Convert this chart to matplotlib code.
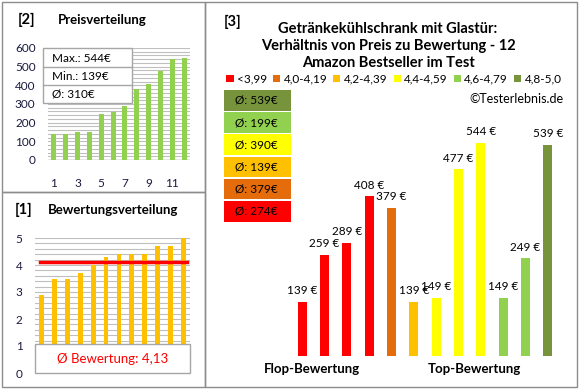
import numpy as np
import matplotlib
matplotlib.use('Agg')
from matplotlib import pyplot as plt
from matplotlib.patches import Rectangle, Patch

plt.rcParams['font.family'] = ['Lato', 'DejaVu Sans']

# Price distribution (sorted)
price_sorted = [139, 139, 149, 149, 249, 259, 289, 379, 408, 477, 539, 544]
# Rating distribution (sorted)
rating_sorted = [2.9, 3.5, 3.5, 3.7, 4.0, 4.3, 4.4, 4.4, 4.4, 4.7, 4.7, 5.0]

# Price vs rating chart
bar_prices = [139, 259, 289, 408, 379, 139, 149, 477, 544, 149, 249, 539]
bar_class = [0, 0, 0, 0, 1, 2, 3, 3, 3, 4, 4, 5]
class_labels = ['<3,99', '4,0-4,19', '4,2-4,39', '4,4-4,59', '4,6-4,79', '4,8-5,0']
class_colors = ['#FF0000', '#E46C0A', '#FFC000', '#FFFF00', '#92D050', '#77933C']
group_labels = ['Flop-Bewertung', 'Top-Bewertung']

W, H = 580, 390
fig = plt.figure(figsize=(W / 100, H / 100), dpi=100)


def px(x0, y0, x1, y1):
    return [x0 / W, 1 - y1 / H, (x1 - x0) / W, (y1 - y0) / H]


def box(x0, y0, x1, y1, fc='none', ec='#8C8C8C', lw=1.0, z=0):
    fig.patches.append(Rectangle((x0 / W, 1 - y1 / H), (x1 - x0) / W, (y1 - y0) / H,
                                 transform=fig.transFigure, fc=fc, ec=ec, lw=lw, zorder=z))


# panel frames
box(2, 2, 205, 192)
box(2, 192, 205, 387)
box(205, 2, 577, 387)

grid_c = '#BFBFBF'
tick_c = '#1A1A40'

# ---- [2] Preisverteilung
fig.text(18 / W, 1 - 20 / H, '[2]', fontsize=10.5, fontweight='bold', va='center')
fig.text(58 / W, 1 - 20 / H, 'Preisverteilung', fontsize=9.5, fontweight='bold', va='center')
ax1 = fig.add_axes(px(48, 48, 190, 160))
x = np.arange(len(price_sorted))
for g in range(20, 620, 20):
    ax1.axhline(g, color=grid_c, lw=0.8, zorder=0)
ax1.axhline(0, color='#868686', lw=1.0, zorder=1)
ax1.bar(x, price_sorted, width=0.42, color='#92D050', zorder=2)
ax1.set_xlim(-0.5, 11.5)
ax1.set_ylim(0, 600)
ax1.set_yticks(range(0, 700, 100))
ax1.set_xticks(x[::2])
ax1.set_xticklabels([str(i + 1) for i in x[::2]])
ax1.tick_params(axis='y', length=0, pad=9, labelsize=8.5, labelcolor=tick_c)
ax1.tick_params(axis='x', length=0, pad=13, labelsize=8.5, labelcolor=tick_c)
for s in ax1.spines.values():
    s.set_visible(False)

# info box
box(43, 48, 132, 103, fc='white', ec='#A6A6A6', z=5)
for yy in (67, 85):
    fig.lines.append(plt.Line2D([43 / W, 132 / W], [1 - yy / H, 1 - yy / H],
                                transform=fig.transFigure, color='#A6A6A6', lw=1.0, zorder=6))
info = ['Max.: %d€' % max(price_sorted), 'Min.: %d€' % min(price_sorted),
        'Ø: %d€' % round(np.mean(price_sorted))]
for t, yy in zip(info, (58, 76, 94)):
    fig.text(52 / W, 1 - yy / H, t, fontsize=8.5, va='center', zorder=7)

# ---- [1] Bewertungsverteilung
fig.text(15 / W, 1 - 210 / H, '[1]', fontsize=10.5, fontweight='bold', va='center')
fig.text(48 / W, 1 - 210 / H, 'Bewertungsverteilung', fontsize=9.5, fontweight='bold', va='center')
ax2 = fig.add_axes(px(35, 238, 190, 373))
x2 = np.arange(len(rating_sorted))
for g in np.arange(0.2, 5.01, 0.2):
    ax2.axhline(g, color=grid_c, lw=0.8, zorder=0)
ax2.bar(x2, rating_sorted, width=0.38, color='#FFC000', zorder=2)
avg_r = np.mean(rating_sorted)
ax2.plot([-0.1, 11.3], [avg_r, avg_r], color='#FF0000', lw=2.5, zorder=3)
ax2.set_xlim(-0.5, 11.5)
ax2.set_ylim(0, 5)
ax2.set_yticks(range(0, 6))
ax2.set_xticks([])
ax2.tick_params(axis='y', length=0, pad=9, labelsize=8.5, labelcolor=tick_c)
for s in ax2.spines.values():
    s.set_visible(False)
ax2.add_patch(Rectangle((0, 0), 1, 1.07 / 5, transform=ax2.transAxes, fc='white',
                        ec='#A6A6A6', lw=1.0, zorder=5, clip_on=False))
ax2.text(0.5, 0.53 / 5, 'Ø Bewertung: ' + ('%.2f' % (round(avg_r + 1e-9, 2))).replace('.', ','),
         transform=ax2.transAxes, ha='center', va='center', color='#FF0000',
         fontsize=9.5, zorder=6)

# ---- [3] Preis zu Bewertung
fig.text(224 / W, 1 - 22 / H, '[3]', fontsize=10.5, fontweight='bold', va='center')
fig.text(388 / W, 1 - 46 / H,
         'Getränkekühlschrank mit Glastür:\nVerhältnis von Preis zu Bewertung - 12\nAmazon Bestseller im Test',
         fontsize=10.5, fontweight='bold', ha='center', va='center', linespacing=1.25)
handles = [Patch(fc=c, ec='none') for c in class_colors]
fig.legend(handles, class_labels, loc='center', bbox_to_anchor=(394 / W, 1 - 79 / H),
           ncol=6, frameon=False, fontsize=8.5, handlelength=0.6, handleheight=0.6,
           handletextpad=0.3, columnspacing=0.5, borderpad=0)
fig.text(563 / W, 1 - 99 / H, '©Testerlebnis.de', fontsize=9, ha='right', va='center')

ax3 = fig.add_axes(px(291, 121, 559, 356))
x3 = np.arange(len(bar_prices))
ax3.bar(x3, bar_prices, width=0.4, color=[class_colors[c] for c in bar_class])
for xi, p in zip(x3, bar_prices):
    ax3.annotate('%d €' % p, (xi, p), xytext=(0, 4), textcoords='offset points',
                 ha='center', va='bottom', fontsize=8.5, annotation_clip=False)
ax3.set_xlim(-0.5, 11.5)
ax3.set_ylim(0, 600)
ax3.axis('off')
fig.text(312 / W, 1 - 369 / H, group_labels[0], fontsize=9.5, fontweight='bold', ha='center', va='center')
fig.text(474 / W, 1 - 369 / H, group_labels[1], fontsize=9.5, fontweight='bold', ha='center', va='center')

# average boxes, best class on top
for k, ci in enumerate(range(len(class_colors) - 1, -1, -1)):
    vals = [p for p, c in zip(bar_prices, bar_class) if c == ci]
    y0 = 90 + k * 22.2
    box(224, y0, 291, y0 + 20.5, fc=class_colors[ci], ec='none', z=3)
    fig.text(235 / W, 1 - (y0 + 10.5) / H, 'Ø: %d€' % round(np.mean(vals)), fontsize=8.5,
             va='center', zorder=4)

fig.savefig('out.png', dpi=100)
